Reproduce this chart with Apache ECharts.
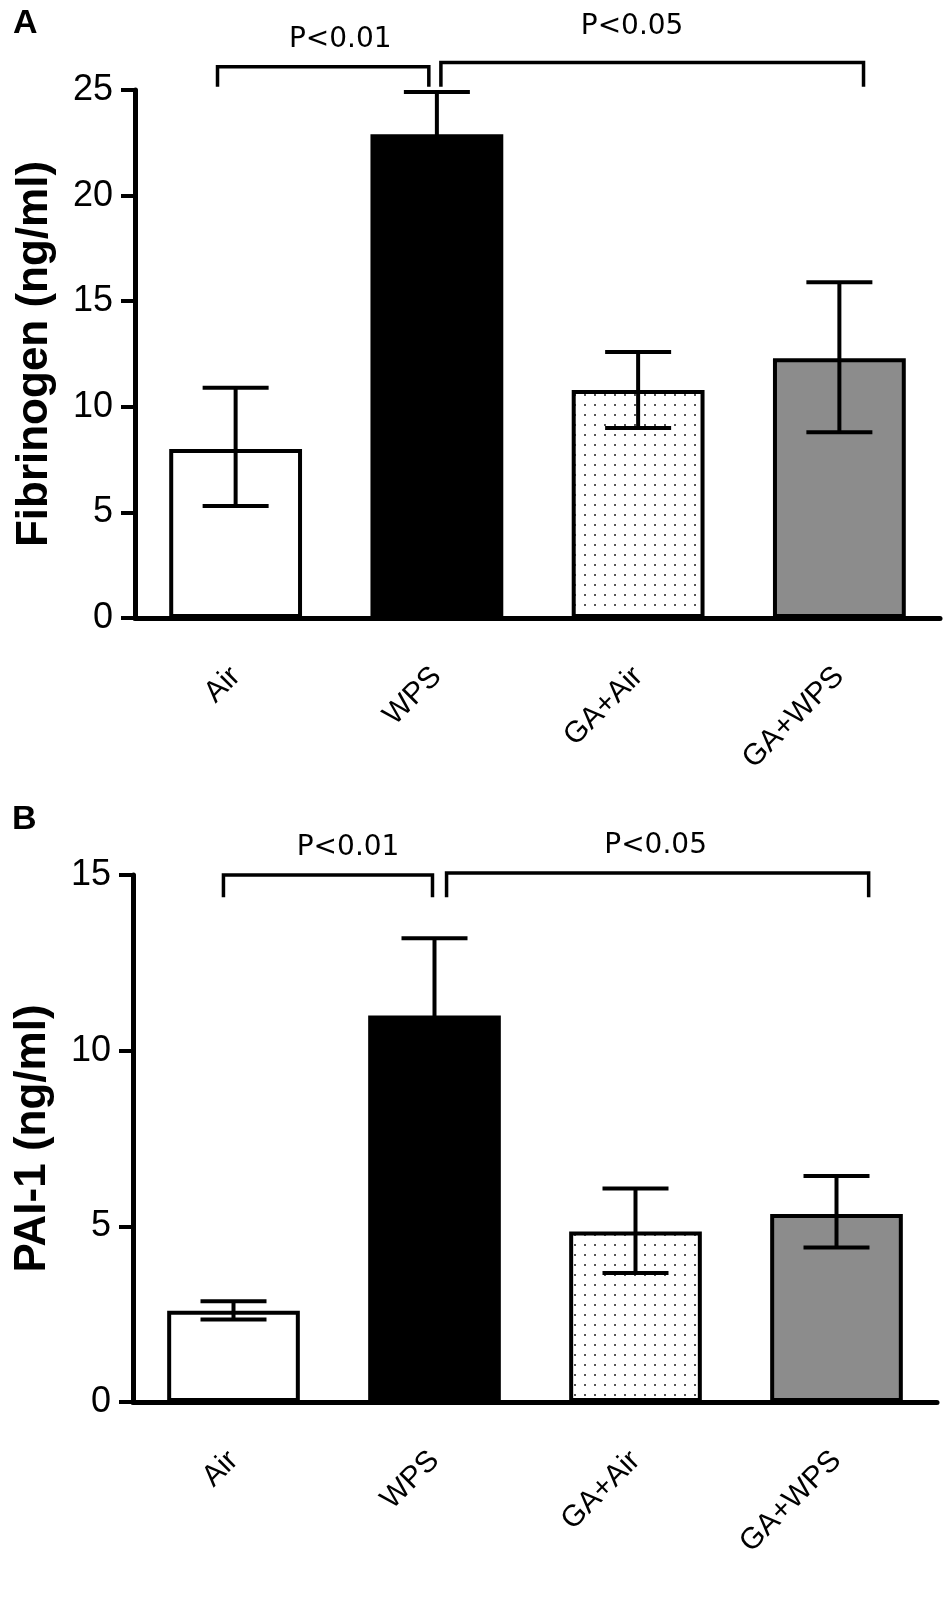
<!DOCTYPE html>
<html>
<head>
<meta charset="utf-8">
<title>Fibrinogen / PAI-1</title>
<script src="https://cdn.jsdelivr.net/npm/echarts@6/dist/echarts.min.js"></script>
<style>
  html, body { margin: 0; padding: 0; background: #fff; }
  #chart { width: 950px; height: 1620px; }
</style>
</head>
<body>
<div id="chart"></div>
<script>
// groups
var categories = ['Air', 'WPS', 'GA+Air', 'GA+WPS'];

// panel A: fibrinogen (ng/ml), mean and error bar ends
var fibMean = [8.0, 22.9, 10.8, 12.3];
var fibHigh = [10.9, 24.9, 12.6, 15.9];
var fibLow  = [5.3, 20.9, 9.0, 8.8];

// panel B: PAI-1 (ng/ml)
var paiMean = [2.6, 11.0, 4.85, 5.35];
var paiHigh = [2.87, 13.2, 6.08, 6.43];
var paiLow  = [2.35, 8.8, 3.67, 4.4];

var fibTicks = [0, 5, 10, 15, 20, 25];
var paiTicks = [0, 5, 10, 15];

// significance brackets: [from, to, top value, leg end value] in group units
var pLabels = ['P<0.01', 'P<0.05'];
var fibBrackets = [[-0.09, 0.96, 26.1, 25.15], [1.02, 3.12, 26.3, 25.15]];
var fibPText = [[0.52, 27.4], [1.97, 28.0]];
var paiBrackets = [[-0.05, 0.99, 15.0, 14.37], [1.06, 3.16, 15.06, 14.37]];
var paiPText = [[0.57, 15.78], [2.1, 15.84]];

var FONT = '"Liberation Sans", Arial, sans-serif';

// dotted fill for GA+Air
var dots = document.createElement('canvas');
dots.width = 10; dots.height = 10;
var dctx = dots.getContext('2d');
dctx.fillStyle = '#fff';
dctx.fillRect(0, 0, 10, 10);
dctx.fillStyle = '#555';
dctx.fillRect(4, 4, 2, 2);

var fills = ['#ffffff', '#000000', {image: dots, repeat: 'repeat'}, '#8c8c8c'];

function barData(vals) {
    return vals.map(function (v, i) {
        return {value: v, itemStyle: {color: fills[i]}};
    });
}

function errData(hi, lo) {
    return hi.map(function (h, i) { return [i, h, lo[i]]; });
}

function renderErr(params, api) {
    var top = api.coord([api.value(0), api.value(1)]);
    var bot = api.coord([api.value(0), api.value(2)]);
    var half = 33;
    var st = {stroke: '#000', lineWidth: 4};
    return {
        type: 'group',
        children: [
            {type: 'line', shape: {x1: top[0], y1: top[1], x2: bot[0], y2: bot[1]}, style: st},
            {type: 'line', shape: {x1: top[0] - half, y1: top[1], x2: top[0] + half, y2: top[1]}, style: st},
            {type: 'line', shape: {x1: bot[0] - half, y1: bot[1], x2: bot[0] + half, y2: bot[1]}, style: st}
        ]
    };
}

function makeBracketRender(textPos) {
    return function (params, api) {
        var a = api.coord([api.value(0), api.value(2)]);
        var b = api.coord([api.value(1), api.value(2)]);
        var legA = api.coord([api.value(0), api.value(3)]);
        var legB = api.coord([api.value(1), api.value(3)]);
        var t = api.coord(textPos[params.dataIndex]);
        var st = {stroke: '#000', lineWidth: 3.5, fill: null};
        return {
            type: 'group',
            children: [
                {type: 'polyline', shape: {points: [legA, a, b, legB]}, style: st},
                {type: 'text', style: {
                    text: pLabels[params.dataIndex], x: t[0], y: t[1],
                    align: 'center', verticalAlign: 'middle',
                    fontSize: 28, fontFamily: '"DejaVu Sans", sans-serif', fill: '#000'
                }}
            ]
        };
    };
}

function valueAxis(grid, max, name, gap) {
    return {
        type: 'value', gridIndex: grid, min: 0, max: max, interval: 5,
        name: name, nameLocation: 'middle', nameGap: gap, nameRotate: 90,
        nameTextStyle: {fontSize: 44, fontWeight: 'bold', fontFamily: FONT, color: '#000'},
        axisLine: {show: true, onZero: false, lineStyle: {color: '#000', width: 5}},
        axisTick: {show: true, length: 14, lineStyle: {color: '#000', width: 4}},
        axisLabel: {fontSize: 36, fontFamily: FONT, color: '#000', margin: 22},
        splitLine: {show: false}
    };
}

function catAxis(grid) {
    return {
        type: 'category', gridIndex: grid, data: categories,
        axisLine: {onZero: false, lineStyle: {color: '#000', width: 5}},
        axisTick: {show: false},
        axisLabel: {rotate: 45, fontSize: 30, fontFamily: FONT, color: '#000', margin: 54}
    };
}

var chart = echarts.init(document.getElementById('chart'));
chart.setOption({
    animation: false,
    backgroundColor: '#fff',
    title: [
        {text: 'A', left: 8, top: 2, textStyle: {fontSize: 34, fontWeight: 'bold', fontFamily: FONT, color: '#000'}},
        {text: 'B', left: 7, top: 798, textStyle: {fontSize: 34, fontWeight: 'bold', fontFamily: FONT, color: '#000'}}
    ],
    grid: [
        {left: 135, width: 805, top: 90, height: 528},
        {left: 133, width: 804, top: 875, height: 527}
    ],
    xAxis: [
        catAxis(0),
        {type: 'value', gridIndex: 0, min: -0.5, max: 3.5, show: false},
        catAxis(1),
        {type: 'value', gridIndex: 1, min: -0.5, max: 3.5, show: false}
    ],
    yAxis: [
        valueAxis(0, fibTicks[fibTicks.length - 1], 'Fibrinogen (ng/ml)', 78),
        valueAxis(1, paiTicks[paiTicks.length - 1], 'PAI-1 (ng/ml)', 78)
    ],
    series: [
        {
            type: 'bar', xAxisIndex: 0, yAxisIndex: 0, barWidth: '66%',
            itemStyle: {borderColor: '#000', borderWidth: 4},
            data: barData(fibMean)
        },
        {
            type: 'custom', xAxisIndex: 0, yAxisIndex: 0, z: 5,
            renderItem: renderErr, data: errData(fibHigh, fibLow)
        },
        {
            type: 'custom', xAxisIndex: 1, yAxisIndex: 0, z: 5, clip: false,
            renderItem: makeBracketRender(fibPText), data: fibBrackets
        },
        {
            type: 'bar', xAxisIndex: 2, yAxisIndex: 1, barWidth: '66%',
            itemStyle: {borderColor: '#000', borderWidth: 4},
            data: barData(paiMean)
        },
        {
            type: 'custom', xAxisIndex: 2, yAxisIndex: 1, z: 5,
            renderItem: renderErr, data: errData(paiHigh, paiLow)
        },
        {
            type: 'custom', xAxisIndex: 3, yAxisIndex: 1, z: 5, clip: false,
            renderItem: makeBracketRender(paiPText), data: paiBrackets
        }
    ]
});
</script>
</body>
</html>
